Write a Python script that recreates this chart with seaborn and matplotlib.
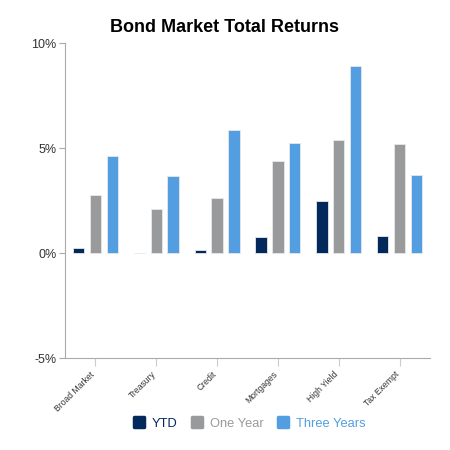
import matplotlib
matplotlib.use("Agg")
import matplotlib.pyplot as plt
import matplotlib.transforms as mtransforms
import seaborn as sns
import pandas as pd
from matplotlib.lines import Line2D
from matplotlib.markers import MarkerStyle
from matplotlib.ticker import FuncFormatter

categories = ["Broad Market", "Treasury", "Credit", "Mortgages", "High Yield", "Tax Exempt"]
series = ["YTD", "One Year", "Three Years"]
ytd = [0.24, 0.01, 0.16, 0.78, 2.48, 0.82]
one_year = [2.78, 2.11, 2.60, 4.40, 5.40, 5.19]
three_years = [4.63, 3.65, 5.87, 5.22, 8.92, 3.73]
colors = ["#03295c", "#999a9c", "#539ee0"]

rows = []
for s, vals in zip(series, [ytd, one_year, three_years]):
    for c, v in zip(categories, vals):
        rows.append({"category": c, "series": s, "value": v})
df = pd.DataFrame(rows)

sns.set_style("white")
plt.rcParams["font.family"] = ["Liberation Sans", "DejaVu Sans"]

fig = plt.figure(figsize=(4.5, 4.5), dpi=100)
ax = fig.add_axes([0.1444, 0.2044, 0.8112, 0.7])

sns.barplot(data=df, x="category", y="value", hue="series", order=categories,
            hue_order=series, palette=colors, saturation=1, width=0.83, gap=0.32,
            edgecolor="#e8e8e8", linewidth=0.6, ax=ax, legend=False)

ax.set_ylim(-5, 10)
ax.set_xlim(-0.5, 5.5)
ax.set_yticks([-5, 0, 5, 10])
ax.yaxis.set_major_formatter(FuncFormatter(lambda v, p: f"{v:.0f}%"))
ax.tick_params(axis="y", labelsize=9, colors="#333333", length=4, width=0.8,
               color="#aaaaaa", left=True, pad=2)
ax.set_xticks(range(len(categories)))
ax.set_xticklabels([])
ax.tick_params(axis="x", length=6, width=0.8, color="#cccccc", bottom=True)

base = mtransforms.blended_transform_factory(ax.transData, ax.transAxes)
offset = mtransforms.ScaledTranslation(-5 / 100, -12 / 100, fig.dpi_scale_trans)
for i, c in enumerate(categories):
    ax.text(i, 0, c, transform=base + offset, rotation=45, ha="right", va="top",
            rotation_mode="anchor", fontsize=6.2, color="#333333")

ax.set_xlabel("")
ax.set_ylabel("")
for side in ["top", "right"]:
    ax.spines[side].set_visible(False)
for side in ["left", "bottom"]:
    ax.spines[side].set_color("#aaaaaa")
    ax.spines[side].set_linewidth(0.8)

fig.text(0.5, 0.94, "Bond Market Total Returns", ha="center", va="center",
         fontsize=13, fontweight="bold", color="#000000")

handles = [Line2D([0], [0], marker=MarkerStyle("s", joinstyle="round"), linestyle="none",
                  markersize=7, markeredgewidth=2.5,
                  markerfacecolor=c, markeredgecolor=c) for c in colors]
leg = fig.legend(handles, series, loc="center", bbox_to_anchor=(0.553, 0.058),
                 ncol=3, frameon=False, fontsize=9.3, handlelength=1.0,
                 handletextpad=0.5, columnspacing=1.0, labelcolor=colors)

fig.savefig("out.png", dpi=100)
